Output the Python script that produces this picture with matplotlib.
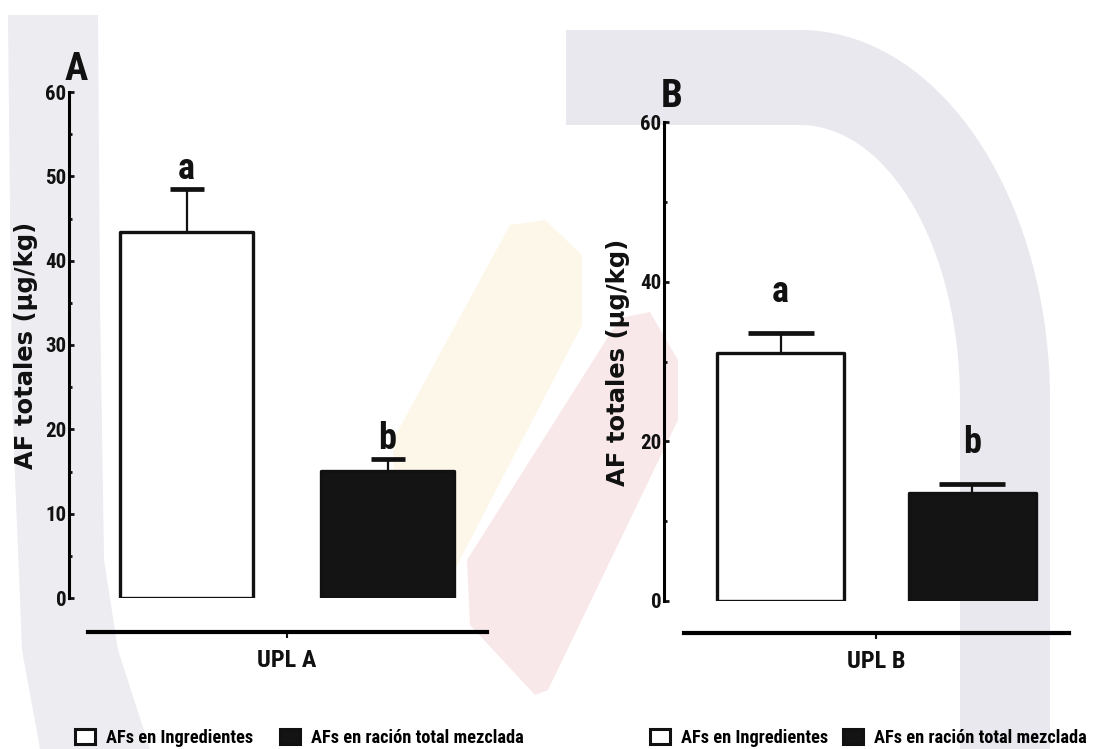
import os
import numpy as np
import matplotlib
matplotlib.use("Agg")
import matplotlib.pyplot as plt
from matplotlib import font_manager as fm
from matplotlib.patches import Polygon, Rectangle
from matplotlib.transforms import Affine2D

# ---- data -------------------------------------------------------------
groups = ["UPL A", "UPL B"]
series = ["AFs en Ingredientes", "AFs en ración total mezclada"]
means_a = [43.4, 15.1]
errs_a = [5.1, 1.4]
means_b = [31.1, 13.5]
errs_b = [2.5, 1.2]
letters_a = ["a", "b"]
letters_b = ["a", "b"]
yticks_a = [0, 10, 20, 30, 40, 50, 60]
yminor_a = [5, 15, 25, 35, 45, 55]
yticks_b = [0, 20, 40, 60]
yminor_b = [10, 30, 50]
ylabel = "AF totales (µg/kg)"

# ---- fonts: prefer a narrow bold face for ticks, letters and legend ----
PREFERRED = ["NotoSans-ExtraCondensedBold", "NotoSans-CondensedBold",
             "RobotoCondensed-Bold", "LiberationSansNarrow-Bold",
             "OpenSans-CondensedBold", "NotoSans-SemiCondensedBold",
             "DejaVuSansCondensed-Bold"]
_files = {os.path.splitext(os.path.basename(f.fname))[0]: f.fname
          for f in fm.fontManager.ttflist}
_narrow_file = next((_files[n] for n in PREFERRED if n in _files), None)
if _narrow_file is None:
    _cands = [f for f in fm.fontManager.ttflist
              if f.stretch == "condensed" and f.weight in (700, "bold")]
    _narrow_file = _cands[0].fname if _cands else None


def narrow(size):
    if _narrow_file:
        return fm.FontProperties(fname=_narrow_file, size=size)
    return fm.FontProperties(family="DejaVu Sans", weight="bold", size=size)


# ---- styling ----------------------------------------------------------
W, H = 1096, 749
INK = "#111111"
BAR_COLORS = ["white", "#141414"]

fig = plt.figure(figsize=(W / 100, H / 100), dpi=100)
fig.patch.set_facecolor("white")
px = Affine2D().scale(1 / W, -1 / H).translate(0, 1) + fig.transFigure


def px_rect(left, top, right, bottom):
    return [left / W, 1 - bottom / H, (right - left) / W, (bottom - top) / H]


# faint background emblem
def shade(points, color):
    fig.add_artist(Polygon(points, closed=True, transform=px, facecolor=color,
                           edgecolor="none", zorder=-10))


shade([(8, 15), (98, 15), (100, 300), (104, 560), (118, 650), (150, 749),
       (40, 749), (22, 650), (12, 400)], "#ececf1")
t = np.linspace(np.pi / 2, 0, 40)
outer = np.column_stack([800 + 250 * np.cos(t), 400 - 370 * np.sin(t)])
inner = np.column_stack([800 + 160 * np.cos(t[::-1]), 400 - 275 * np.sin(t[::-1])])
arc = np.vstack([[(566, 30)], outer, [(1050, 749), (960, 749)], inner, [(566, 125)]])
shade(arc, "#e8e8ee")
shade([(510, 225), (545, 220), (582, 255), (582, 325), (440, 598), (395, 560),
       (393, 440)], "#fdf7ea")
shade([(620, 318), (650, 312), (678, 360), (678, 420), (548, 690), (535, 695),
       (470, 625), (467, 560)], "#f9e8ea")


def panel(ax, means, errs, letters, yticks, yminor, group, xlim, xbounds,
          capsize, letter_off, drop_pt):
    x = np.arange(len(means))
    ax.patch.set_alpha(0)
    ax.bar(x, means, width=0.66, color=BAR_COLORS, edgecolor=INK,
           linewidth=2.4, joinstyle="round", zorder=2)
    _, caps, _ = ax.errorbar(x, means, yerr=[np.zeros(len(errs)), errs],
                             fmt="none", ecolor=INK, elinewidth=1.6,
                             capsize=capsize, capthick=3.4, zorder=1)
    for cap in caps:
        if np.allclose(cap.get_ydata(), means):
            cap.set_visible(False)
    for xi, m, e, lab in zip(x, means, errs, letters):
        ax.annotate(lab, xy=(xi, m + e), xytext=(0, letter_off),
                    textcoords="offset points", ha="center", va="baseline",
                    fontproperties=narrow(26), color=INK)

    ax.set_xlim(*xlim)
    ax.set_ylim(0, 60)
    for side in ("top", "right"):
        ax.spines[side].set_visible(False)
    ax.spines["left"].set_bounds(0, 60)
    ax.spines["left"].set_linewidth(2.2)
    ax.spines["bottom"].set_position(("outward", drop_pt))
    ax.spines["bottom"].set_bounds(*xbounds)
    ax.spines["bottom"].set_linewidth(3.0)

    ax.set_xticks([0.5])
    ax.set_xticklabels([group], fontproperties=narrow(17.5))
    ax.tick_params(axis="x", direction="out", length=4.5, width=1.5, pad=8,
                   color=INK, labelcolor=INK)
    ax.set_yticks(yticks)
    ax.set_yticks(yminor, minor=True)
    ax.set_yticklabels([str(v) for v in yticks], fontproperties=narrow(15))
    ax.tick_params(axis="y", which="major", direction="in", length=3.5,
                   width=2.0, pad=2, color=INK, labelcolor=INK)
    ax.tick_params(axis="y", which="minor", direction="in", length=2.5,
                   width=2.0, color=INK)


axA = fig.add_axes(px_rect(69, 92, 487, 598))
panel(axA, means_a, errs_a, letters_a, yticks_a, yminor_a, groups[0],
      (-0.585, 1.495), (-0.49, 1.495), 12.2, 7, 24.5)
axB = fig.add_axes(px_rect(664, 122, 1069, 601))
panel(axB, means_b, errs_b, letters_b, yticks_b, yminor_b, groups[1],
      (-0.607, 1.503), (-0.503, 1.503), 23.8, 22, 23.0)

# panel tags and axis titles
fig.text(76.5 / W, 1 - 80 / H, "A", ha="center", va="baseline",
         fontproperties=narrow(28), color=INK)
fig.text(671.5 / W, 1 - 107 / H, "B", ha="center", va="baseline",
         fontproperties=narrow(28), color=INK)
for xc, yc in ((26, 345), (618, 362)):
    fig.text(xc / W, 1 - yc / H, ylabel, rotation=90, ha="center",
             va="center", fontsize=17.5, fontweight="bold",
             family="DejaVu Sans", color=INK)


# legends under each panel
def handles():
    return [Rectangle((0, 0), 1, 1, facecolor=c, edgecolor=INK, linewidth=2.2,
                      joinstyle="round") for c in BAR_COLORS]


for x0, colsp in ((75, 1.45), (650, 0.8)):
    fig.legend(handles(), series, loc="center left",
               bbox_to_anchor=(x0 / W, 1 - 738 / H), ncol=2, frameon=False,
               borderpad=0, borderaxespad=0, handlelength=1.1,
               handleheight=0.9, handletextpad=0.6, columnspacing=colsp,
               prop=narrow(13.2))

fig.savefig("out.png", dpi=100, facecolor="white")
